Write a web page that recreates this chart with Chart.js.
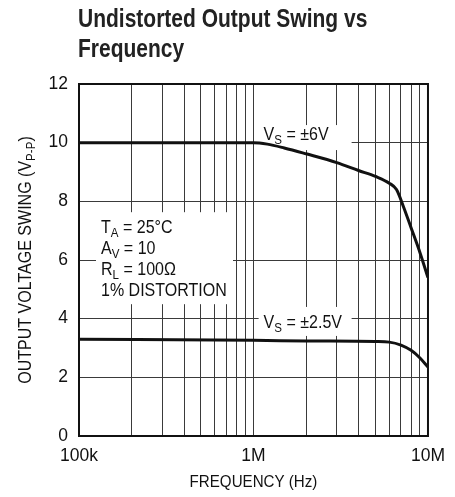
<!DOCTYPE html>
<html lang="en">
<head>
    <meta charset="UTF-8">
    <title>Undistorted Output Swing vs Frequency</title>
    <script src="https://cdn.jsdelivr.net/npm/chart.js"></script>
    <style>
        body { margin: 0; background: #fff; }
    </style>
</head>
<body>
    <canvas id="swingChart" width="455" height="497"></canvas>
    <script>
        const FONT = "'Liberation Sans', Arial, sans-serif";
        const SQUEEZE = 0.89; // narrow the hand drawn text a bit

        // curve for Vs = +/-6V
        const freq6V = [1e5, 1e6, 1.2e6, 1.5e6, 2e6, 3e6, 4e6, 5e6, 6e6, 6.6e6, 7.2e6, 8e6, 9e6, 1e7];
        const swing6V = [10, 10, 9.95, 9.82, 9.62, 9.32, 9.05, 8.85, 8.62, 8.4, 7.85, 7.1, 6.25, 5.4];

        // curve for Vs = +/-2.5V
        const freq25V = [1e5, 1e6, 2e6, 5e6, 6e6, 7e6, 8e6, 9e6, 1e7];
        const swing25V = [3.3, 3.26, 3.24, 3.22, 3.2, 3.1, 2.92, 2.66, 2.35];

        const xTickValues = [1e5, 1e6, 1e7];
        const xTickLabels = ['100k', '1M', '10M'];
        const yTickValues = [0, 2, 4, 6, 8, 10, 12];

        const curveLabels = [
            [['V', false], ['S', true], [' = \u00b16V', false]],
            [['V', false], ['S', true], [' = \u00b12.5V', false]]
        ];
        const conditions = [
            [['T', false], ['A', true], [' = 25\u00b0C', false]],
            [['A', false], ['V', true], [' = 10', false]],
            [['R', false], ['L', true], [' = 100\u03a9', false]],
            [['1% DISTORTION', false]]
        ];

        function toPoints(xs, ys) {
            return xs.map((x, i) => ({ x: x, y: ys[i] }));
        }

        // text with subscripts, squeezed horizontally; returns width
        function richText(ctx, parts, x, y, size, measureOnly) {
            let cx = 0;
            ctx.save();
            ctx.translate(x, y);
            ctx.scale(SQUEEZE, 1);
            parts.forEach(([txt, sub]) => {
                ctx.font = (sub ? Math.round(size * 0.72) : size) + 'px ' + FONT;
                if (!measureOnly) ctx.fillText(txt, cx, sub ? size * 0.22 : 0);
                cx += ctx.measureText(txt).width;
            });
            ctx.restore();
            return cx * SQUEEZE;
        }

        const decorations = {
            id: 'decorations',
            beforeDatasetsDraw(chart) {
                const ctx = chart.ctx;
                const xs = chart.scales.x, ys = chart.scales.y;
                ctx.save();
                // white boxes behind the labels
                ctx.fillStyle = '#fff';
                const lx = xs.getPixelForValue(1.07e6);
                ctx.fillRect(lx, ys.getPixelForValue(10.6), 93, 25);
                ctx.fillRect(lx, ys.getPixelForValue(4.4), 93, 29);
                ctx.fillRect(chart.chartArea.left + 17, ys.getPixelForValue(7.63), 137, 92);
                ctx.restore();
            },
            afterDraw(chart) {
                const ctx = chart.ctx;
                const area = chart.chartArea;
                const xs = chart.scales.x;
                ctx.save();
                ctx.strokeStyle = '#111';
                ctx.lineWidth = 2;
                ctx.strokeRect(area.left, area.top, area.right - area.left, area.bottom - area.top);

                ctx.fillStyle = '#222';
                ctx.textBaseline = 'alphabetic';
                ctx.textAlign = 'left';
                ctx.save();
                ctx.translate(78, 0);
                ctx.scale(0.84, 1);
                ctx.font = 'bold 25px ' + FONT;
                ctx.fillText('Undistorted Output Swing vs', 0, 27);
                ctx.fillText('Frequency', 0, 57);
                ctx.restore();

                ctx.fillStyle = '#111';
                const lx = xs.getPixelForValue(1.07e6) + 5;
                richText(ctx, curveLabels[0], lx, 140, 18);
                richText(ctx, curveLabels[1], lx, 328, 18);
                conditions.forEach((line, i) => {
                    richText(ctx, line, area.left + 22, 233 + i * 21, 18);
                });

                // x axis title
                const xTitle = [['FREQUENCY (Hz)', false]];
                const xw = richText(ctx, xTitle, 0, 0, 17, true);
                richText(ctx, xTitle, (area.left + area.right) / 2 - xw / 2, 487, 17);

                // y axis title, rotated
                const yTitle = [['OUTPUT VOLTAGE SWING (V', false], ['P-P', true], [')', false]];
                const w = richText(ctx, yTitle, 0, 0, 18, true);
                ctx.translate(31, (area.top + area.bottom) / 2);
                ctx.rotate(-Math.PI / 2);
                richText(ctx, yTitle, -w / 2, 0, 18);
                ctx.restore();
            }
        };

        const lineStyle = {
            borderColor: '#111',
            borderWidth: 3,
            pointRadius: 0,
            fill: false,
            cubicInterpolationMode: 'monotone'
        };

        new Chart(document.getElementById('swingChart'), {
            type: 'line',
            data: {
                datasets: [
                    Object.assign({ label: 'VS = \u00b16V', data: toPoints(freq6V, swing6V) }, lineStyle),
                    Object.assign({ label: 'VS = \u00b12.5V', data: toPoints(freq25V, swing25V) }, lineStyle)
                ]
            },
            options: {
                responsive: false,
                animation: false,
                layout: { padding: { top: 84, right: 24, left: 0, bottom: 0 } },
                plugins: {
                    legend: { display: false },
                    tooltip: { enabled: false },
                    title: { display: false }
                },
                scales: {
                    x: {
                        type: 'logarithmic',
                        min: 1e5,
                        max: 1e7,
                        afterBuildTicks: function(scale) {
                            const ticks = [];
                            for (let d = 1e5; d < 1e7; d *= 10) {
                                for (let m = 1; m < 10; m++) ticks.push({ value: m * d });
                            }
                            ticks.push({ value: 1e7 });
                            scale.ticks = ticks;
                        },
                        afterFit: function(scale) { scale.height = 61; },
                        grid: { color: '#3a3a3a', lineWidth: 1, drawTicks: false },
                        border: { color: '#111', width: 2 },
                        ticks: {
                            autoSkip: false,
                            maxRotation: 0,
                            padding: 10,
                            color: '#111',
                            font: { family: FONT, size: 17.5 },
                            callback: function(value) {
                                const i = xTickValues.indexOf(value);
                                return i >= 0 ? xTickLabels[i] : '';
                            }
                        }
                    },
                    y: {
                        min: 0,
                        max: 12,
                        afterBuildTicks: function(scale) {
                            scale.ticks = yTickValues.map(v => ({ value: v }));
                        },
                        afterFit: function(scale) { scale.width = 79; },
                        grid: { color: '#3a3a3a', lineWidth: 1, drawTicks: false },
                        border: { color: '#111', width: 2 },
                        ticks: {
                            padding: 11,
                            color: '#111',
                            font: { family: FONT, size: 17.5 }
                        }
                    }
                }
            },
            plugins: [decorations]
        });
    </script>
</body>
</html>
